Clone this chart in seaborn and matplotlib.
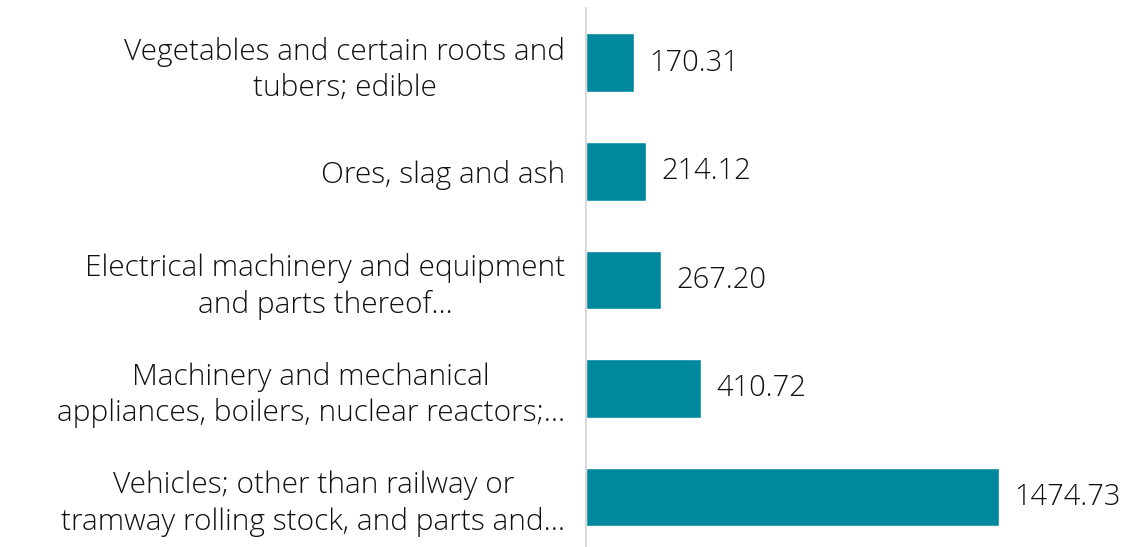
import matplotlib
matplotlib.use("Agg")
import matplotlib.pyplot as plt
import seaborn as sns
import pandas as pd

categories = [
    "Vegetables and certain roots and\ntubers; edible",
    "Ores, slag and ash",
    "Electrical machinery and equipment\nand parts thereof...",
    "Machinery and mechanical\nappliances, boilers, nuclear reactors;...",
    "Vehicles; other than railway or\ntramway rolling stock, and parts and...",
]
values = [170.31, 214.12, 267.20, 410.72, 1474.73]
value_labels = ["170.31", "214.12", "267.20", "410.72", "1474.73"]

BAR_COLOR = "#00889f"

sns.set_theme(style="white")
plt.rcParams["font.family"] = ["Open Sans", "DejaVu Sans"]

df = pd.DataFrame({"category": categories, "value": values})

fig = plt.figure(figsize=(11.27, 5.47), dpi=100)
ax = fig.add_axes([0.52, -0.008, 0.47, 0.9925])

sns.barplot(data=df, x="value", y="category", orient="h", color=BAR_COLOR,
            width=0.54, saturation=1, ax=ax)

ax.set_xlim(0, 1890)
ax.set_ylim(4.5, -0.5)
ax.set_xlabel("")
ax.set_ylabel("")
ax.set_xticks([])
for side in ["top", "right", "bottom"]:
    ax.spines[side].set_visible(False)
ax.spines["left"].set_color("#d9d9d9")
ax.spines["left"].set_linewidth(1.5)
ax.tick_params(axis="y", length=0, pad=15, labelsize=21.5, labelcolor="#111111")
for lbl in ax.get_yticklabels():
    lbl.set_horizontalalignment("right")
    lbl.set_multialignment("center")
    lbl.set_linespacing(1.28)
    lbl.set_fontweight("light")

for i, (v, t) in enumerate(zip(values, value_labels)):
    ax.annotate(t, (v, i), xytext=(11, 0), textcoords="offset points",
                va="center", ha="left", fontsize=21, color="#111111",
                fontweight="light")

fig.savefig("out.png", dpi=100)
